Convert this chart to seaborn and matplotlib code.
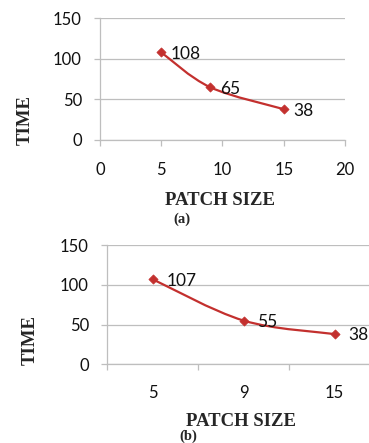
import numpy as np
import matplotlib
matplotlib.use("Agg")
import matplotlib.pyplot as plt
from matplotlib.path import Path
from matplotlib.patches import PathPatch
import seaborn as sns
import pandas as pd

# Processing time versus patch size, two experiments
patch_sizes = [5, 9, 15]
time_a = [108, 65, 38]
time_b = [107, 55, 38]
y_ticks = [0, 50, 100, 150]
x_ticks_a = [0, 5, 10, 15, 20]

RED = "#C3302E"
GRID = "#BEBEBE"
TICK_FONT = "Lato"
LABEL_FONT = "Liberation Serif"

sns.set_style("white")
plt.rcParams["font.family"] = [TICK_FONT, "DejaVu Sans"]


def smooth_path(xs, ys):
    """Cubic Bezier path through the points (Catmull-Rom style smoothing)."""
    pts = np.column_stack([xs, ys]).astype(float)
    n = len(pts)
    verts = [pts[0]]
    codes = [Path.MOVETO]
    for i in range(n - 1):
        p_prev = pts[i - 1] if i > 0 else pts[i]
        p0, p1 = pts[i], pts[i + 1]
        p_next = pts[i + 2] if i + 2 < n else pts[i + 1]
        c1 = p0 + (p1 - p_prev) / 6.0
        c2 = p1 - (p_next - p0) / 6.0
        verts += [c1, c2, p1]
        codes += [Path.CURVE4] * 3
    return Path(verts, codes)


def style_axes(ax):
    ax.set_ylim(0, 150)
    ax.set_yticks(y_ticks)
    ax.yaxis.grid(True, color=GRID, lw=0.9)
    ax.xaxis.grid(False)
    for side in ("top", "right"):
        ax.spines[side].set_visible(False)
    for side in ("left", "bottom"):
        ax.spines[side].set_color(GRID)
        ax.spines[side].set_linewidth(0.9)
    ax.tick_params(axis="y", direction="out", length=4, width=0.9, color=GRID,
                   pad=9, labelsize=12, labelcolor="#111111", left=True)
    ax.tick_params(axis="x", which="major", direction="out", length=4.5, width=0.9,
                   color=GRID, pad=11, labelsize=12, labelcolor="#111111", bottom=True)
    ax.set_axisbelow(True)


def draw_series(ax, xs, ys, dx):
    ax.add_patch(PathPatch(smooth_path(xs, ys), fill=False, ec=RED, lw=1.6, zorder=3))
    df = pd.DataFrame({"x": xs, "y": ys})
    sns.scatterplot(data=df, x="x", y="y", marker="D", s=22, color=RED,
                    edgecolor=RED, linewidth=0.5, ax=ax, zorder=4, legend=False)
    for x, y in zip(xs, ys):
        ax.annotate(str(y), (x, y), xytext=(dx, -1), textcoords="offset points",
                    ha="left", va="center", fontsize=12.5, color="#111111",
                    family=[TICK_FONT, "DejaVu Sans"], annotation_clip=False)


fig = plt.figure(figsize=(3.69, 4.43), dpi=100)

# (a) numeric patch-size axis
ax1 = fig.add_axes([100 / 369, 1 - 140 / 443, 245 / 369, 121.7 / 443])
style_axes(ax1)
ax1.set_xlim(0, 20)
ax1.set_xticks(x_ticks_a)
draw_series(ax1, patch_sizes, time_a, 7)
ax1.set_xlabel("PATCH SIZE", family=LABEL_FONT, weight="bold", fontsize=13.5)
ax1.set_ylabel("TIME", family=LABEL_FONT, weight="bold", fontsize=13.5, va="center")
ax1.yaxis.set_label_coords(-0.305, 0.165)
ax1.xaxis.set_label_coords(0.49, -0.43)
fig.text(182 / 369, 1 - 219 / 443, "(a)", family=LABEL_FONT, weight="bold",
         fontsize=10.5, ha="center", va="center")

# (b) categorical patch-size axis, ticks between categories
ax2 = fig.add_axes([107 / 369, 1 - 364.3 / 443, 273 / 369, 119.3 / 443])
style_axes(ax2)
pos = np.arange(len(patch_sizes))
ax2.set_xlim(-0.5, len(patch_sizes) - 0.5)
ax2.set_xticks(np.arange(-0.5, len(patch_sizes), 1.0))
ax2.set_xticklabels([])
ax2.set_xticks(pos, minor=True)
ax2.set_xticklabels([str(p) for p in patch_sizes], minor=True)
ax2.tick_params(axis="x", which="minor", length=0, pad=15, labelsize=12,
                labelcolor="#111111")
draw_series(ax2, pos, time_b, 10)
ax2.set_xlabel("PATCH SIZE", family=LABEL_FONT, weight="bold", fontsize=13.5)
ax2.set_ylabel("TIME", family=LABEL_FONT, weight="bold", fontsize=13.5, va="center")
ax2.yaxis.set_label_coords(-0.28, 0.2)
ax2.xaxis.set_label_coords(0.49, -0.405)
fig.text(188 / 369, 1 - 436 / 443, "(b)", family=LABEL_FONT, weight="bold",
         fontsize=10.5, ha="center", va="center")

fig.savefig("out.png", dpi=100)
